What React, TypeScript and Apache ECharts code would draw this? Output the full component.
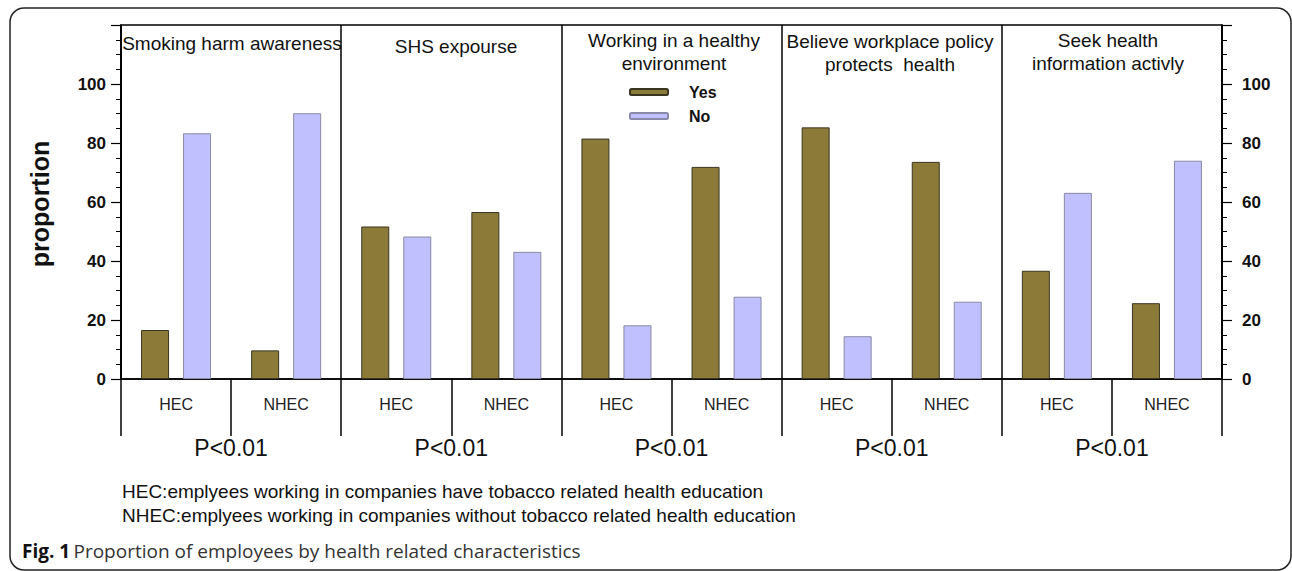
import React, { useEffect, useRef } from "react";
import * as echarts from "echarts";

const categories = ["HEC", "NHEC", "HEC", "NHEC", "HEC", "NHEC", "HEC", "NHEC", "HEC", "NHEC"];
const yesValues = [16.6, 9.7, 51.7, 56.6, 81.5, 71.9, 85.3, 73.6, 36.7, 25.7];
const noValues = [83.3, 90.1, 48.3, 43.1, 18.2, 27.9, 14.5, 26.2, 63.1, 74.0];
const panelTitles = [
  "Smoking harm awareness",
  "SHS expourse",
  "Working in a healthy\nenvironment",
  "Believe workplace policy\nprotects  health",
  "Seek health\ninformation activly",
];
const pValues = ["P<0.01", "P<0.01", "P<0.01", "P<0.01", "P<0.01"];
const yTicks = [0, 20, 40, 60, 80, 100];
const footnotes = [
  "HEC:emplyees working in companies have tobacco related health education",
  "NHEC:emplyees working in companies without tobacco related health education",
];

const FONT = "'Liberation Sans', Arial, sans-serif";

export default function App() {
  const ref = useRef<HTMLDivElement>(null);
  useEffect(() => {
    if (!ref.current) return;
    const chart = echarts.init(ref.current, null, { renderer: "svg" });
    const yAxisBase = (pos: "left" | "right") => ({
      type: "value",
      position: pos,
      min: 0,
      max: 120,
      interval: 20,
      axisLine: { show: true, lineStyle: { color: "#000", width: 1.5 } },
      axisTick: { show: true, inside: false, length: 10, lineStyle: { color: "#000", width: 1.2 } },
      minorTick: { show: true, splitNumber: 4, length: 5, lineStyle: { color: "#000", width: 1 } },
      splitLine: { show: false },
      axisLabel: {
        margin: pos === "left" ? 15 : 20,
        fontFamily: "Liberation Sans",
        fontSize: 17,
        fontWeight: "bold",
        color: "#111",
        formatter: (v: number) => (yTicks.indexOf(v) >= 0 ? String(v) : ""),
      },
    });

    const titleCenters = [
      [232, 43],
      [456, 46],
      [674, 52],
      [890, 53],
      [1108, 52],
    ];

    chart.setOption({
      animation: false,
      backgroundColor: "#fff",
      grid: {
        left: 121,
        top: 25,
        right: 70,
        bottom: 192,
        show: true,
        borderColor: "#000",
        borderWidth: 1.5,
        backgroundColor: "transparent",
      },
      legend: {
        left: 624,
        top: 79,
        orient: "vertical",
        itemWidth: 38,
        itemHeight: 6,
        itemGap: 8,
        data: ["Yes", "No"],
        textStyle: {
          fontFamily: "Liberation Sans",
          fontSize: 16,
          fontWeight: "bold",
          color: "#111",
          padding: [0, 0, 0, 16],
        },
      },
      xAxis: [
        {
          type: "category",
          data: categories,
          position: "bottom",
          axisLine: { show: true, lineStyle: { color: "#000", width: 1.5 } },
          axisTick: { show: true, interval: 0, length: 57, inside: false, lineStyle: { color: "#000", width: 1.5 } },
          splitLine: {
            show: true,
            interval: (i: number) => i % 2 === 0,
            lineStyle: { color: "#000", width: 1.5 },
          },
          axisLabel: { interval: 0, margin: 17, fontFamily: "Liberation Sans", fontSize: 16, color: "#222" },
        },
        {
          type: "category",
          data: pValues,
          position: "bottom",
          axisLine: { show: false },
          axisTick: { show: false },
          splitLine: { show: false },
          axisLabel: { interval: 0, margin: 57, fontFamily: "Liberation Sans", fontSize: 23, color: "#111" },
        },
      ],
      yAxis: [yAxisBase("left"), yAxisBase("right")],
      series: [
        {
          name: "Yes",
          type: "bar",
          data: yesValues,
          barWidth: 28,
          barGap: "50%",
          itemStyle: { color: "#8B7A38", borderColor: "#3a3520", borderWidth: 1 },
        },
        {
          name: "No",
          type: "bar",
          data: noValues,
          barWidth: 28,
          barGap: "50%",
          itemStyle: { color: "#C0C0FF", borderColor: "#8a8aa6", borderWidth: 1 },
        },
      ],
      graphic: [
        {
          type: "rect",
          shape: { x: 10, y: 8, width: 1281, height: 562, r: 14 },
          style: { fill: "none", stroke: "#222", lineWidth: 1.5 },
          silent: true,
        },
        ...panelTitles.map((t, i) => ({
          type: "text",
          x: titleCenters[i][0],
          y: titleCenters[i][1],
          style: {
            text: t,
            fontFamily: "Liberation Sans",
            fontSize: 19,
            fill: "#111",
            align: "center",
            verticalAlign: "middle",
            lineHeight: 23,
          },
        })),
        {
          type: "text",
          x: 40,
          y: 204,
          rotation: Math.PI / 2,
          style: {
            text: "proportion",
            fontFamily: "Liberation Sans",
            fontWeight: "bold",
            fontSize: 25,
            fill: "#111",
            align: "center",
            verticalAlign: "middle",
          },
        },
        ...footnotes.map((t, i) => ({
          type: "text",
          x: 122,
          y: 491 + i * 24,
          style: {
            text: t,
            fontFamily: "Liberation Sans",
            fontSize: 19,
            fill: "#111",
            align: "left",
            verticalAlign: "middle",
          },
        })),
        {
          type: "text",
          x: 22,
          y: 551,
          style: {
            text: "{b|Fig. 1} {r|Proportion of employees by health related characteristics}",
            align: "left",
            verticalAlign: "middle",
            rich: {
              b: { fontFamily: "Open Sans", fontWeight: "bold", fontSize: 19, fill: "#111" },
              r: { fontFamily: "Open Sans", fontSize: 19, fill: "#333" },
            },
          },
        },
      ],
    });
    return () => chart.dispose();
  }, []);
  return (
    <div
      ref={ref}
      style={{ position: "fixed", left: 0, top: 0, width: 1292, height: 571, background: "#fff" }}
    />
  );
}
